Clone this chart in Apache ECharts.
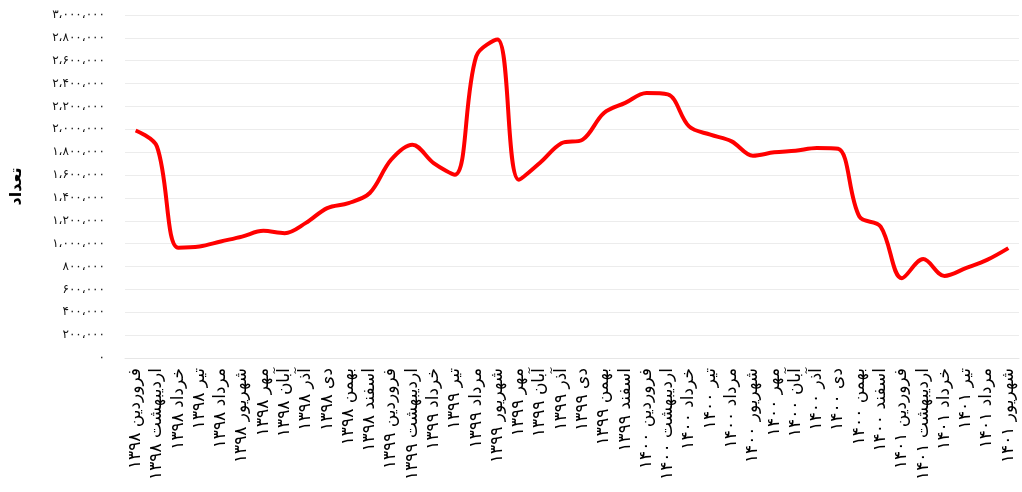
<!DOCTYPE html>
<html>
<head>
<meta charset="utf-8">
<script src="https://cdn.jsdelivr.net/npm/echarts@6/dist/echarts.min.js"></script>
<style>
  html, body { margin: 0; padding: 0; background: #fff; }
  #chart { width: 1022px; height: 492px; }
</style>
</head>
<body>
<div id="chart"></div>
<script>
// ماه‌ها و سال‌ها
const monthNames = ['فروردین', 'اردیبهشت', 'خرداد', 'تیر', 'مرداد', 'شهریور',
  'مهر', 'آبان', 'آذر', 'دی', 'بهمن', 'اسفند']
const years = ['۱۳۹۸', '۱۳۹۹', '۱۴۰۰', '۱۴۰۱']
const categories = []
years.forEach(function (y, yi) {
  monthNames.forEach(function (m, mi) {
    if (yi < 3 || mi < 6) categories.push(m + ' ' + y)
  })
})

// تعداد
const counts = [
  1990000, 1850000, 965000, 975000, 1019000, 1062000, 1112000, 1092000, 1182000, 1311000,
  1355000, 1443000, 1734000, 1866000, 1705000, 1603000, 2639000, 2785000, 1559000, 1708000,
  1878000, 1910000, 2143000, 2231000, 2318000, 2306000, 2026000, 1953000, 1895000, 1769000,
  1799000, 1813000, 1837000, 1830000, 1238000, 1150000, 698000, 865000, 718000, 786000,
  858000, 961000
]

const yMin = 0
const yMax = 3000000
const yStep = 200000

const faDigits = '۰۱۲۳۴۵۶۷۸۹'
function toFa(n) {
  const s = String(n).replace(/\B(?=(\d{3})+(?!\d))/g, '،')
  return s.replace(/\d/g, function (d) { return faDigits[+d] })
}

const chart = echarts.init(document.getElementById('chart'))
chart.setOption({
  animation: false,
  textStyle: { fontFamily: 'DejaVu Sans' },
  grid: { left: 125, right: 3, top: 15, bottom: 134 },
  xAxis: {
    type: 'category',
    data: categories,
    boundaryGap: true,
    axisLine: { lineStyle: { color: '#e6e6e6' } },
    axisTick: { show: false },
    axisLabel: {
      interval: 0,
      rotate: 90,
      margin: 10,
      color: '#000',
      fontSize: 17,
      fontFamily: 'DejaVu Sans'
    }
  },
  yAxis: {
    type: 'value',
    min: yMin,
    max: yMax,
    interval: yStep,
    name: 'تعداد',
    nameLocation: 'middle',
    nameRotate: 90,
    nameGap: 100,
    nameTextStyle: { color: '#000', fontSize: 16, fontWeight: 'bold', fontFamily: 'DejaVu Sans' },
    axisLine: { show: false },
    axisTick: { show: false },
    axisLabel: {
      margin: 20,
      color: '#111',
      fontSize: 12,
      formatter: function (v) { return toFa(v) }
    },
    splitLine: { lineStyle: { color: '#ececec', width: 1 } }
  },
  series: [{
    type: 'line',
    data: counts,
    smooth: 0.35,
    showSymbol: false,
    lineStyle: { color: '#ff0000', width: 4 }
  }]
})
</script>
</body>
</html>
